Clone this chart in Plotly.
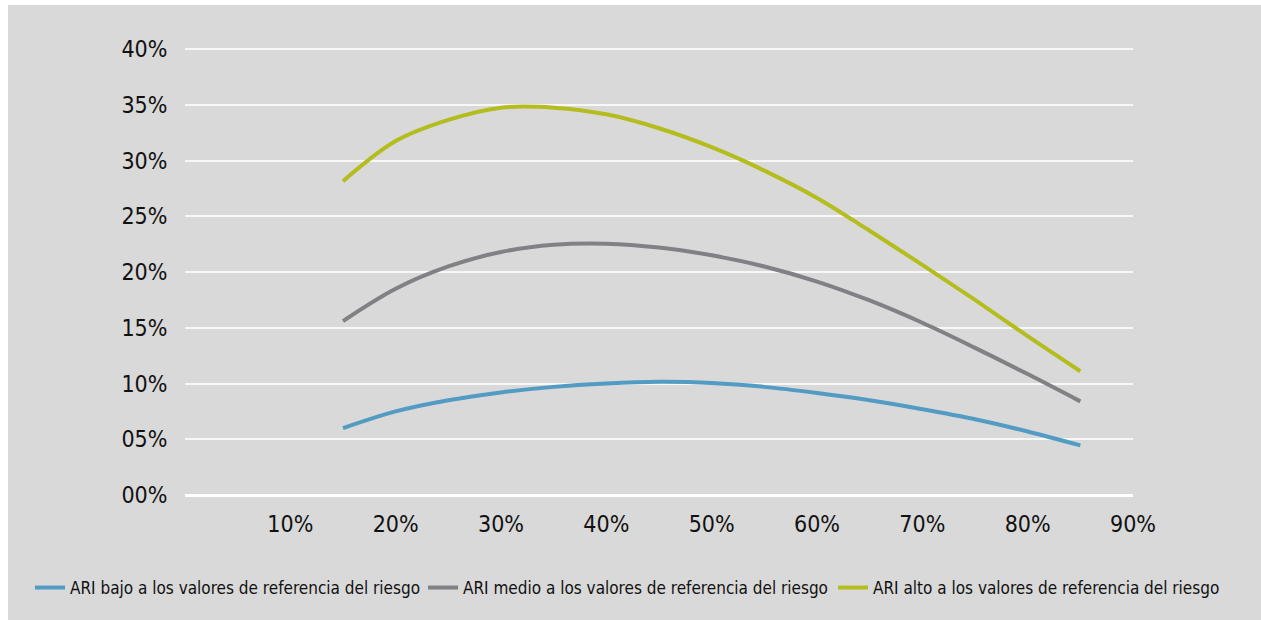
import plotly.graph_objects as go

# Loan-to-value buckets (x) and loss rates for each ARI level
ltv = [0.15, 0.20, 0.25, 0.30, 0.35, 0.40, 0.45, 0.50, 0.55, 0.60, 0.65, 0.70, 0.75, 0.80, 0.85]
ari_bajo = [0.0600, 0.0750, 0.0850, 0.0920, 0.0970, 0.1000, 0.1015, 0.1005, 0.0970, 0.0915, 0.0850, 0.0770, 0.0680, 0.0570, 0.0445]
ari_medio = [0.1560, 0.1850, 0.2050, 0.2180, 0.2245, 0.2255, 0.2220, 0.2150, 0.2050, 0.1915, 0.1745, 0.1545, 0.1320, 0.1085, 0.0840]
ari_alto = [0.2815, 0.3175, 0.3365, 0.3475, 0.3475, 0.3415, 0.3290, 0.3120, 0.2910, 0.2665, 0.2370, 0.2065, 0.1750, 0.1425, 0.1110]

series_names = [
    "ARI bajo a los valores de referencia del riesgo",
    "ARI medio a los valores de referencia del riesgo",
    "ARI alto a los valores de referencia del riesgo",
]
series_colors = ["#529cc3", "#808085", "#b4bd1e"]

x_ticks = [0.1, 0.2, 0.3, 0.4, 0.5, 0.6, 0.7, 0.8, 0.9]
x_labels = ["10%", "20%", "30%", "40%", "50%", "60%", "70%", "80%", "90%"]
y_ticks = [0.0, 0.05, 0.10, 0.15, 0.20, 0.25, 0.30, 0.35, 0.40]
y_labels = ["00%", "05%", "10%", "15%", "20%", "25%", "30%", "35%", "40%"]

FONT = "DejaVu Sans Condensed, Liberation Sans Narrow, sans-serif"
BG = "#d9d9d9"
INK = "#111111"

W, H = 1261, 620
ML, MR, MT, MB = 185, 128, 48, 125
pw, ph = W - ML - MR, H - MT - MB

# one legend per series, laid out in a single row under the axis
legend_ids = ["legend", "legend2", "legend3"]
legend_px = [30, 423, 833]

fig = go.Figure()
for name, ys, col, lid in zip(series_names, [ari_bajo, ari_medio, ari_alto], series_colors, legend_ids):
    fig.add_trace(go.Scatter(
        x=ltv, y=ys, name=name, mode="lines", legend=lid,
        line=dict(color=col, width=4, shape="spline", smoothing=1.0),
        hoverinfo="skip",
    ))

# white border strips along the top and left edge of the page
fig.add_shape(type="rect", xref="paper", yref="paper", layer="below",
              x0=-ML / pw - 0.01, x1=(8 - ML) / pw, y0=-MB / ph - 0.01, y1=1 + MT / ph + 0.01,
              fillcolor="white", line_width=0)
fig.add_shape(type="rect", xref="paper", yref="paper", layer="below",
              x0=-ML / pw - 0.01, x1=1 + MR / pw + 0.01, y0=1 + (MT - 5) / ph, y1=1 + MT / ph + 0.01,
              fillcolor="white", line_width=0)

legend_style = dict(
    orientation="h", xanchor="left", y=(495 - 588) / ph, yanchor="middle",
    font=dict(size=17, family=FONT, color=INK),
    bgcolor="rgba(0,0,0,0)", itemwidth=30,
)
layout_legends = {
    lid: dict(legend_style, x=(px - ML) / pw) for lid, px in zip(legend_ids, legend_px)
}

fig.update_layout(
    width=W, height=H,
    margin=dict(l=ML, r=MR, t=MT, b=MB, pad=0),
    paper_bgcolor=BG, plot_bgcolor=BG,
    font=dict(family=FONT, color=INK, size=22),
    showlegend=True,
    xaxis=dict(
        range=[0, 0.9], tickvals=x_ticks, ticktext=x_labels,
        showgrid=False, zeroline=False, showline=False,
        ticks="outside", ticklen=8, tickcolor="rgba(0,0,0,0)",
        tickfont=dict(size=23, family=FONT, color=INK),
    ),
    yaxis=dict(
        range=[0, 0.401], tickvals=y_ticks, ticktext=y_labels,
        showgrid=True, gridcolor="#f7f7f7", gridwidth=2,
        zeroline=True, zerolinecolor="#ffffff", zerolinewidth=2.5,
        showline=False,
        ticks="outside", ticklen=12, tickcolor="rgba(0,0,0,0)",
        tickfont=dict(size=23, family=FONT, color=INK),
    ),
    **layout_legends,
)

fig.write_html("out.html")
